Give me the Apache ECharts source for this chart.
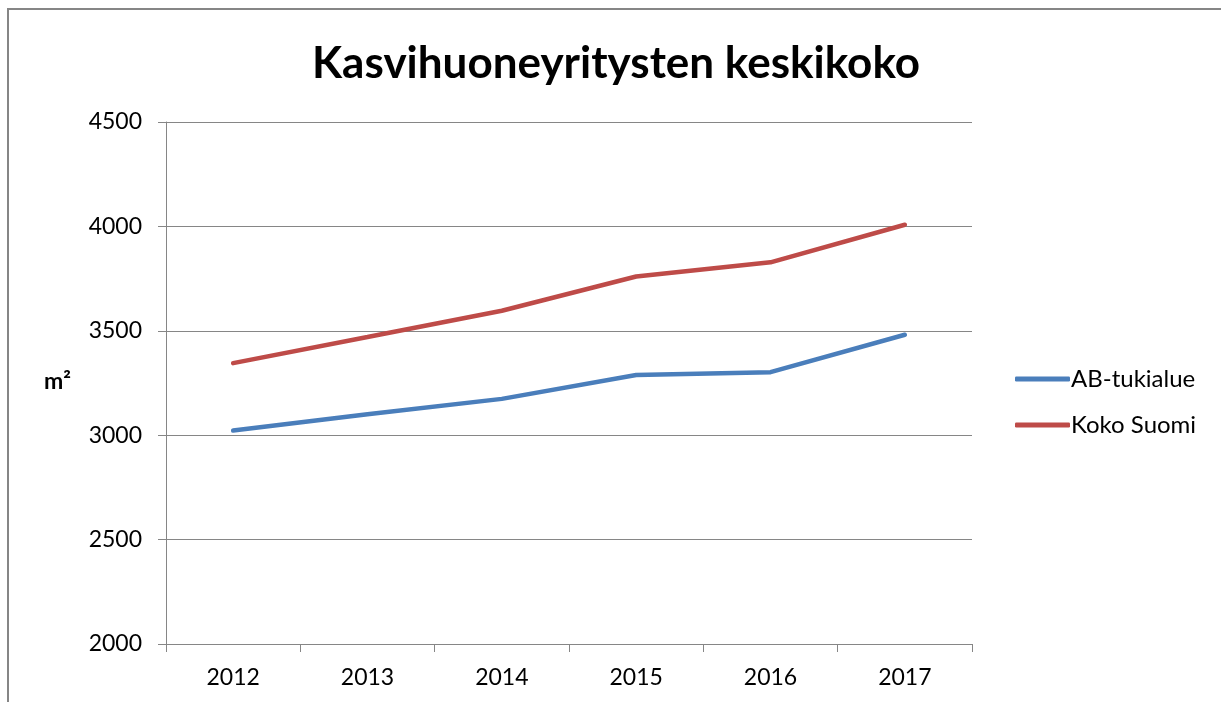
<!DOCTYPE html>
<html>
<head>
<meta charset="utf-8">
<script src="https://cdn.jsdelivr.net/npm/echarts@6/dist/echarts.min.js"></script>
<style>
html,body{margin:0;padding:0;background:#fff;}
#chart{width:1221px;height:702px;}
</style>
</head>
<body>
<div id="chart"></div>
<script>
const titleText = 'Kasvihuoneyritysten keskikoko';
const years = ['2012', '2013', '2014', '2015', '2016', '2017'];
const abTukialue = [3022, 3100, 3174, 3288, 3302, 3481];
const kokoSuomi = [3345, 3470, 3596, 3760, 3828, 4008];
const seriesNames = ['AB-tukialue', 'Koko Suomi'];
const yMin = 2000, yMax = 4500, yStep = 500;
const unitLabel = 'm²';

const chart = echarts.init(document.getElementById('chart'));
const font = 'Lato, "Open Sans", sans-serif';
chart.setOption({
  backgroundColor: '#fff',
  animation: false,
  title: {
    text: titleText,
    left: 307,
    top: 37,
    textStyle: { fontFamily: font, fontWeight: 'bold', fontSize: 44, color: '#000' }
  },
  graphic: [
    { type: 'rect', shape: { x: 8, y: 9, width: 1240, height: 720 }, style: { fill: 'none', stroke: '#868686', lineWidth: 2 }, silent: true },
    { type: 'text', left: 44, top: 370, style: { text: unitLabel, font: 'bold 23px ' + font, fill: '#000' } }
  ],
  legend: {
    orient: 'vertical',
    left: 1010,
    top: 362,
    itemWidth: 55,
    itemHeight: 5,
    itemGap: 22,
    icon: 'roundRect',
    textStyle: { fontFamily: font, fontSize: 24, color: '#000', padding: [0, 0, 0, -4] },
    data: seriesNames
  },
  grid: { left: 166, right: 249, top: 122, bottom: 58, containLabel: false },
  xAxis: {
    type: 'category',
    data: years,
    boundaryGap: true,
    axisLine: { lineStyle: { color: '#868686', width: 1 } },
    axisTick: { show: true, length: 8, lineStyle: { color: '#868686' } },
    axisLabel: { fontFamily: font, fontSize: 23, color: '#000', margin: 22 },
    splitLine: { show: false }
  },
  yAxis: {
    type: 'value',
    min: yMin, max: yMax, interval: yStep,
    axisLine: { show: true, lineStyle: { color: '#868686', width: 1 } },
    axisTick: { show: true, length: 8, lineStyle: { color: '#868686' } },
    axisLabel: { fontFamily: font, fontSize: 23, color: '#000', margin: 24, formatter: function (v) { return String(v); } },
    splitLine: { show: true, lineStyle: { color: '#868686', width: 1 } }
  },
  series: [
    { name: seriesNames[0], type: 'line', data: abTukialue, showSymbol: false, symbol: 'none', color: '#4A7EBB', lineStyle: { width: 4.5, color: '#4A7EBB', cap: 'round' } },
    { name: seriesNames[1], type: 'line', data: kokoSuomi, showSymbol: false, symbol: 'none', color: '#BE4B48', lineStyle: { width: 4.5, color: '#BE4B48', cap: 'round' } }
  ]
});
</script>
</body>
</html>
